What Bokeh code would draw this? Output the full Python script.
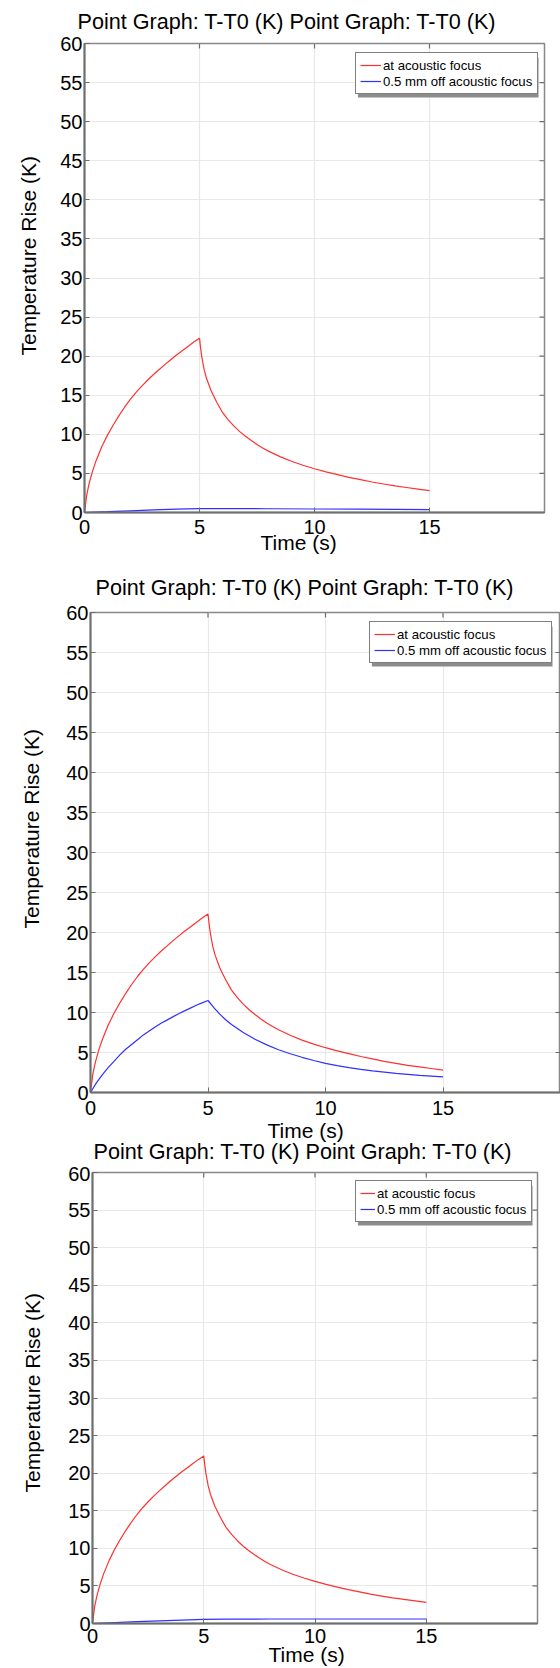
import numpy as np
from bokeh.plotting import figure
from bokeh.models import Legend, LegendItem, FixedTicker, Range1d, Title, BoxAnnotation
from bokeh.layouts import column
from bokeh.embed import file_html
from bokeh.resources import INLINE

# ---------------- data ----------------
title_text = "Point Graph: T-T0 (K) Point Graph: T-T0 (K)"
x_label = "Time (s)"
y_label = "Temperature Rise (K)"
series_names = ["at acoustic focus", "0.5 mm off acoustic focus"]

x_ticks = [0, 5, 10, 15]
y_ticks = [0, 5, 10, 15, 20, 25, 30, 35, 40, 45, 50, 55, 60]

# red curve (at acoustic focus) - same in all three panels
focus_time = [0, 0.1, 0.2, 0.35, 0.5, 0.75, 1.0, 1.25, 1.5, 1.75, 2.0, 2.25, 2.5, 2.75, 3.0,
              3.25, 3.5, 3.75, 4.0, 4.25, 4.5, 4.75, 5.0,
              5.05, 5.1, 5.2, 5.3, 5.5, 5.75, 6.0, 6.25, 6.5, 6.75, 7.0, 7.25, 7.5, 7.75, 8.0,
              8.5, 9.0, 9.5, 10.0, 10.5, 11.0, 11.5, 12.0, 12.5, 13.0, 13.5, 14.0, 14.5, 15.0]
focus_rise = [0, 2.3, 3.7, 5.3, 6.6, 8.4, 9.9, 11.2, 12.4, 13.5, 14.5, 15.4, 16.2, 16.95, 17.65,
              18.3, 18.95, 19.55, 20.15, 20.7, 21.25, 21.8, 22.3,
              21.0, 19.9, 18.3, 17.2, 15.6, 14.1, 12.8, 11.85, 11.05, 10.35, 9.75, 9.2, 8.7, 8.25, 7.85,
              7.15, 6.55, 6.05, 5.6, 5.2, 4.85, 4.5, 4.2, 3.9, 3.65, 3.4, 3.2, 3.0, 2.8]

# blue curves (0.5 mm off acoustic focus)
off1_time = [0, 1, 2, 3, 4, 5, 6, 8, 10, 12, 15]
off1_rise = [0, 0.10, 0.22, 0.33, 0.42, 0.50, 0.50, 0.48, 0.45, 0.42, 0.38]

off2_time = [0, 0.25, 0.5, 0.75, 1.0, 1.25, 1.5, 1.75, 2.0, 2.25, 2.5, 2.75, 3.0, 3.25, 3.5,
             3.75, 4.0, 4.25, 4.5, 4.75, 5.0,
             5.25, 5.5, 5.75, 6.0, 6.5, 7.0, 7.5, 8.0, 8.5, 9.0, 9.5, 10.0, 10.5, 11.0, 11.5,
             12.0, 13.0, 14.0, 15.0]
off2_rise = [0, 1.2, 2.2, 3.1, 3.9, 4.7, 5.4, 6.0, 6.6, 7.2, 7.7, 8.2, 8.65, 9.05, 9.45,
             9.85, 10.2, 10.55, 10.9, 11.2, 11.5,
             10.6, 9.8, 9.1, 8.5, 7.5, 6.65, 5.95, 5.35, 4.85, 4.4, 4.0, 3.65, 3.35, 3.1, 2.88,
             2.7, 2.4, 2.15, 1.95]

off3_time = [0, 1, 2, 3, 4, 5, 6, 8, 10, 12, 15]
off3_rise = [0, 0.12, 0.25, 0.36, 0.46, 0.55, 0.58, 0.60, 0.60, 0.60, 0.60]

# ---------------- style / layout ----------------
FONT = "Liberation Sans"
RED = "#ff3030"
BLUE = "#3030ff"
AXIS = "#6e6e6e"
GRID = "#e8e8e8"
TITLE_SIZE = "21.6px"
WIDTH = 560
LEG_PAD, LEG_ROW, LEG_LABEL_W, LEG_STANDOFF, SHADOW = 4, 16, 150, 2, 3

layouts = [
    dict(t=off1_time, v=off1_rise, height=564, left=83, right=16, top=43, bottom=52,
         title=dict(off=-7, stand=16, va="top"), lab_stand=7,
         yl_off=157, yl_stand=32, xl_off=176, xl_stand=-15, leg=(271, 418), glyph_w=21,
         next_title=None),
    dict(t=off2_time, v=off2_rise, height=602, left=89, right=0, top=48, bottom=74,
         title=dict(off=5, stand=21, va="top"), lab_stand=8,
         yl_off=164, yl_stand=38, xl_off=177, xl_stand=-1, leg=(279, 429), glyph_w=21,
         next_title=dict(off=3, stand=-9)),
    dict(t=off3_time, v=off3_rise, height=501, left=91, right=23, top=6, bottom=44,
         title=None, lab_stand=5,
         yl_off=131, yl_stand=40, xl_off=176, xl_stand=-9, leg=(263, 401), glyph_w=15,
         next_title=None),
]


def make_title(text, size, align, off, stand, va="bottom"):
    t = Title(text=text, align=align, offset=off, vertical_align=va, text_font=FONT,
              text_font_size=size, text_font_style="normal", text_color="black")
    try:
        t.standoff = stand
    except Exception:
        t.standoff = 0
    return t


figs = []
for L in layouts:
    p = figure(width=WIDTH, height=L["height"], output_backend="svg", toolbar_location=None,
               x_range=Range1d(0, 20), y_range=Range1d(0, 60),
               min_border_left=L["left"], min_border_right=L["right"],
               min_border_top=L["top"], min_border_bottom=L["bottom"])
    try:
        p.frame_align = False
    except Exception:
        pass
    p.background_fill_color = "white"
    p.border_fill_color = "white"
    p.outline_line_color = "#888888"
    p.outline_line_width = 1.5

    if L["title"] is not None:
        T = L["title"]
        p.title = make_title(title_text, TITLE_SIZE, "left", T["off"], T["stand"], T["va"])
    else:
        p.title.text = ""
        p.title.standoff = 0

    p.xaxis.ticker = FixedTicker(ticks=x_ticks)
    p.yaxis.ticker = FixedTicker(ticks=y_ticks)
    for ax in (p.xaxis[0], p.yaxis[0]):
        ax.axis_line_color = AXIS
        ax.axis_line_width = 2
        ax.major_tick_in = 5
        ax.major_tick_out = 0
        ax.major_tick_line_color = AXIS
        ax.minor_tick_line_color = None
        ax.major_label_text_font = FONT
        ax.major_label_text_font_size = "20px"
        ax.major_label_text_color = "black"
    p.xaxis.major_label_standoff = L["lab_stand"]
    p.yaxis.major_label_standoff = 2

    p.grid.grid_line_color = GRID
    p.grid.grid_line_width = 1.2

    # ticks on the top and right frame edges
    p.scatter(x=x_ticks[1:], y=[y_ticks[-1]] * (len(x_ticks) - 1), marker="dash", size=10,
              angle=np.pi / 2, line_color=AXIS, line_width=1.2)
    p.scatter(x=[20] * (len(y_ticks) - 2), y=y_ticks[1:-1], marker="dash", size=10,
              line_color=AXIS, line_width=1.2)

    r1 = p.line(focus_time, focus_rise, line_color=RED, line_width=1.2)
    r2 = p.line(L["t"], L["v"], line_color=BLUE, line_width=1.2)

    # drop shadow behind the legend box (pixel offsets converted to data units)
    fw = WIDTH - L["left"] - L["right"]
    fh = L["height"] - L["top"] - L["bottom"]
    kx, ky = 20.0 / fw, 60.0 / fh
    lw = 2 * LEG_PAD + L["glyph_w"] + LEG_STANDOFF + LEG_LABEL_W
    lh = 2 * LEG_PAD + 2 * LEG_ROW
    lx, ly = L["leg"]
    p.add_layout(BoxAnnotation(left=(lx + SHADOW) * kx, right=(lx + lw + SHADOW) * kx,
                               bottom=(ly - SHADOW) * ky, top=(ly + lh - SHADOW) * ky,
                               fill_color="#8c8c8c", fill_alpha=1.0, line_color=None))

    legend = Legend(items=[LegendItem(label=series_names[0], renderers=[r1]),
                           LegendItem(label=series_names[1], renderers=[r2])],
                    location=L["leg"], margin=0, padding=LEG_PAD, spacing=0,
                    label_height=LEG_ROW, glyph_height=LEG_ROW, glyph_width=L["glyph_w"],
                    label_standoff=LEG_STANDOFF, label_width=LEG_LABEL_W,
                    label_text_font=FONT, label_text_font_size="13.2px", label_text_color="black",
                    border_line_color="black", border_line_width=1,
                    background_fill_color="white", background_fill_alpha=1.0)
    p.add_layout(legend)

    p.add_layout(make_title(y_label, "21px", "left", L["yl_off"], L["yl_stand"], "top"), "left")
    p.add_layout(make_title(x_label, "21px", "left", L["xl_off"], L["xl_stand"]), "below")
    if L["next_title"] is not None:
        # title of the following panel: it sits right under this panel's "Time (s)"
        nt = L["next_title"]
        p.add_layout(make_title(title_text, TITLE_SIZE, "left", nt["off"], nt["stand"]), "below")
    figs.append(p)

layout = column(*figs, spacing=0)
open("out.html", "w").write(file_html(layout, INLINE))
